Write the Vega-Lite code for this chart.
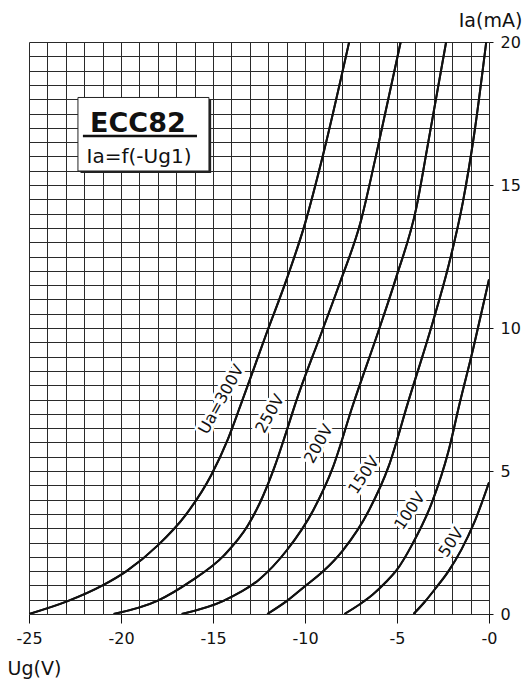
{
  "$schema": "https://vega.github.io/schema/vega-lite/v6.json",
  "width": 460,
  "height": 572,
  "autosize": {"type": "none"},
  "padding": {"left": 29, "top": 42, "right": 43, "bottom": 72},
  "background": "white",
  "config": {
    "view": {"stroke": null},
    "font": "DejaVu Sans",
    "axisX": {
      "grid": true, "gridColor": "#2a2a2a", "gridWidth": 1, "gridOpacity": 1,
      "domain": false,
      "tickSize": 9, "tickColor": "#111111", "tickWidth": 1,
      "labelFont": "DejaVu Sans", "labelFontSize": 16, "labelColor": "#111111", "labelPadding": 7,
      "labelOverlap": false, "labelFlush": false,
      "titleFont": "DejaVu Sans", "titleFontSize": 19, "titleFontWeight": "normal", "titleColor": "#111111",
      "titleAlign": "left", "titleBaseline": "alphabetic", "titleX": -22, "titleY": 60
    },
    "axisY": {
      "grid": true, "gridColor": "#2a2a2a", "gridWidth": 1, "gridOpacity": 1,
      "domain": false,
      "tickSize": 4, "tickColor": "#111111", "tickWidth": 1,
      "labelFont": "DejaVu Sans", "labelFontSize": 16, "labelColor": "#111111", "labelPadding": 7,
      "labelOverlap": false, "labelFlush": false, "labelAlign": "left", "labelBaseline": "middle",
      "titleFont": "DejaVu Sans", "titleFontSize": 19, "titleFontWeight": "normal", "titleColor": "#111111",
      "titleAngle": 0, "titleAlign": "center", "titleBaseline": "alphabetic", "titleX": 1, "titleY": -16
    }
  },
  "datasets": {
    "curves": [
      {"ua": "300V", "ug": -25.0, "ia": 0.0},
      {"ua": "300V", "ug": -22.9, "ia": 0.45},
      {"ua": "300V", "ug": -21.0, "ia": 1.0},
      {"ua": "300V", "ug": -19.7, "ia": 1.5},
      {"ua": "300V", "ug": -18.0, "ia": 2.4},
      {"ua": "300V", "ug": -16.5, "ia": 3.45},
      {"ua": "300V", "ug": -15.1, "ia": 4.85},
      {"ua": "300V", "ug": -14.2, "ia": 6.1},
      {"ua": "300V", "ug": -13.5, "ia": 7.3},
      {"ua": "300V", "ug": -12.1, "ia": 9.8},
      {"ua": "300V", "ug": -11.0, "ia": 11.7},
      {"ua": "300V", "ug": -10.0, "ia": 13.65},
      {"ua": "300V", "ug": -9.0, "ia": 16.1},
      {"ua": "300V", "ug": -7.6, "ia": 20.0},
      {"ua": "250V", "ug": -20.4, "ia": 0.0},
      {"ua": "250V", "ug": -18.0, "ia": 0.47},
      {"ua": "250V", "ug": -16.2, "ia": 1.15},
      {"ua": "250V", "ug": -14.4, "ia": 2.05},
      {"ua": "250V", "ug": -13.1, "ia": 3.1},
      {"ua": "250V", "ug": -12.3, "ia": 4.1},
      {"ua": "250V", "ug": -11.65, "ia": 5.15},
      {"ua": "250V", "ug": -11.05, "ia": 6.3},
      {"ua": "250V", "ug": -10.5, "ia": 7.4},
      {"ua": "250V", "ug": -9.13, "ia": 9.79},
      {"ua": "250V", "ug": -8.06, "ia": 11.66},
      {"ua": "250V", "ug": -7.0, "ia": 13.65},
      {"ua": "250V", "ug": -6.15, "ia": 16.0},
      {"ua": "250V", "ug": -4.8, "ia": 20.0},
      {"ua": "200V", "ug": -16.7, "ia": 0.0},
      {"ua": "200V", "ug": -14.4, "ia": 0.47},
      {"ua": "200V", "ug": -12.5, "ia": 1.2},
      {"ua": "200V", "ug": -11.0, "ia": 2.22},
      {"ua": "200V", "ug": -9.55, "ia": 3.63},
      {"ua": "200V", "ug": -8.5, "ia": 5.1},
      {"ua": "200V", "ug": -7.4, "ia": 7.3},
      {"ua": "200V", "ug": -5.95, "ia": 10.0},
      {"ua": "200V", "ug": -5.04, "ia": 11.78},
      {"ua": "200V", "ug": -3.95, "ia": 14.2},
      {"ua": "200V", "ug": -3.3, "ia": 16.5},
      {"ua": "200V", "ug": -2.33, "ia": 20.0},
      {"ua": "150V", "ug": -12.05, "ia": 0.0},
      {"ua": "150V", "ug": -11.0, "ia": 0.45},
      {"ua": "150V", "ug": -10.1, "ia": 0.92},
      {"ua": "150V", "ug": -9.0, "ia": 1.5},
      {"ua": "150V", "ug": -7.95, "ia": 2.22},
      {"ua": "150V", "ug": -6.52, "ia": 3.63},
      {"ua": "150V", "ug": -5.45, "ia": 5.17},
      {"ua": "150V", "ug": -4.4, "ia": 7.4},
      {"ua": "150V", "ug": -3.08, "ia": 10.15},
      {"ua": "150V", "ug": -2.19, "ia": 12.2},
      {"ua": "150V", "ug": -1.42, "ia": 14.4},
      {"ua": "150V", "ug": -0.8, "ia": 16.8},
      {"ua": "150V", "ug": -0.15, "ia": 20.0},
      {"ua": "100V", "ug": -7.86, "ia": 0.0},
      {"ua": "100V", "ug": -7.0, "ia": 0.35},
      {"ua": "100V", "ug": -6.3, "ia": 0.69},
      {"ua": "100V", "ug": -5.6, "ia": 1.12},
      {"ua": "100V", "ug": -5.0, "ia": 1.55},
      {"ua": "100V", "ug": -4.2, "ia": 2.4},
      {"ua": "100V", "ug": -3.1, "ia": 3.9},
      {"ua": "100V", "ug": -2.2, "ia": 5.7},
      {"ua": "100V", "ug": -1.6, "ia": 7.35},
      {"ua": "100V", "ug": -0.85, "ia": 9.3},
      {"ua": "100V", "ug": 0.0, "ia": 11.7},
      {"ua": "50V", "ug": -4.1, "ia": 0.0},
      {"ua": "50V", "ug": -3.5, "ia": 0.42},
      {"ua": "50V", "ug": -2.9, "ia": 0.9},
      {"ua": "50V", "ug": -2.2, "ia": 1.5},
      {"ua": "50V", "ug": -1.5, "ia": 2.25},
      {"ua": "50V", "ug": -0.8, "ia": 3.2},
      {"ua": "50V", "ug": 0.0, "ia": 4.6}
    ],
    "labels": [
      {"ua": "300V", "text": "Ua=300V", "ug": -14.55, "ia": 7.5},
      {"ua": "250V", "text": "250V", "ug": -11.9, "ia": 7.0},
      {"ua": "200V", "text": "200V", "ug": -9.25, "ia": 5.95},
      {"ua": "150V", "text": "150V", "ug": -6.8, "ia": 4.85},
      {"ua": "100V", "text": "100V", "ug": -4.3, "ia": 3.6},
      {"ua": "50V", "text": "50V", "ug": -2.05, "ia": 2.5}
    ]
  },
  "layer": [
    {
      "data": {"name": "curves"},
      "mark": {"type": "line", "color": "#111111", "strokeWidth": 2, "interpolate": "monotone", "clip": true},
      "encoding": {
        "x": {"field": "ug", "type": "quantitative", "scale": {"domain": [-25, 0], "nice": false, "zero": false},
          "axis": {"title": "Ug(V)", "values": [-25,-24,-23,-22,-21,-20,-19,-18,-17,-16,-15,-14,-13,-12,-11,-10,-9,-8,-7,-6,-5,-4,-3,-2,-1,0], "tickOpacity": {"condition": {"test": "datum.value % 5 === 0", "value": 1}, "value": 0}, "labelExpr": "datum.value % 5 === 0 ? '-' + abs(datum.value) : ''"}},
        "y": {"field": "ia", "type": "quantitative", "scale": {"domain": [0, 20], "nice": false},
          "axis": {"orient": "right", "title": "Ia(mA)", "values": [0,0.5,1,1.5,2,2.5,3,3.5,4,4.5,5,5.5,6,6.5,7,7.5,8,8.5,9,9.5,10,10.5,11,11.5,12,12.5,13,13.5,14,14.5,15,15.5,16,16.5,17,17.5,18,18.5,19,19.5,20], "tickOpacity": {"condition": {"test": "datum.value % 5 === 0", "value": 1}, "value": 0}, "labelExpr": "datum.value % 5 === 0 ? '' + datum.value : ''"}},
        "detail": {"field": "ua"}
      }
    },
    {
      "data": {"name": "labels"},
      "transform": [{"filter": {"field": "ua", "oneOf": ["300V", "250V", "200V"]}}],
      "mark": {"type": "text", "angle": -61, "font": "DejaVu Sans", "fontSize": 16, "fill": "white", "stroke": "white", "strokeWidth": 6, "strokeJoin": "round", "align": "center", "baseline": "middle"},
      "encoding": {
        "x": {"field": "ug", "type": "quantitative",
          "axis": {"title": "Ug(V)", "values": [-25,-24,-23,-22,-21,-20,-19,-18,-17,-16,-15,-14,-13,-12,-11,-10,-9,-8,-7,-6,-5,-4,-3,-2,-1,0], "tickOpacity": {"condition": {"test": "datum.value % 5 === 0", "value": 1}, "value": 0}, "labelExpr": "datum.value % 5 === 0 ? '-' + abs(datum.value) : ''"}},
        "y": {"field": "ia", "type": "quantitative",
          "axis": {"orient": "right", "title": "Ia(mA)", "values": [0,0.5,1,1.5,2,2.5,3,3.5,4,4.5,5,5.5,6,6.5,7,7.5,8,8.5,9,9.5,10,10.5,11,11.5,12,12.5,13,13.5,14,14.5,15,15.5,16,16.5,17,17.5,18,18.5,19,19.5,20], "tickOpacity": {"condition": {"test": "datum.value % 5 === 0", "value": 1}, "value": 0}, "labelExpr": "datum.value % 5 === 0 ? '' + datum.value : ''"}},
        "text": {"field": "text"}
      }
    },
    {
      "data": {"name": "labels"},
      "transform": [{"filter": {"field": "ua", "oneOf": ["150V", "100V", "50V"]}}],
      "mark": {"type": "text", "angle": -56, "font": "DejaVu Sans", "fontSize": 16, "fill": "white", "stroke": "white", "strokeWidth": 6, "strokeJoin": "round", "align": "center", "baseline": "middle"},
      "encoding": {
        "x": {"field": "ug", "type": "quantitative",
          "axis": {"title": "Ug(V)", "values": [-25,-24,-23,-22,-21,-20,-19,-18,-17,-16,-15,-14,-13,-12,-11,-10,-9,-8,-7,-6,-5,-4,-3,-2,-1,0], "tickOpacity": {"condition": {"test": "datum.value % 5 === 0", "value": 1}, "value": 0}, "labelExpr": "datum.value % 5 === 0 ? '-' + abs(datum.value) : ''"}},
        "y": {"field": "ia", "type": "quantitative",
          "axis": {"orient": "right", "title": "Ia(mA)", "values": [0,0.5,1,1.5,2,2.5,3,3.5,4,4.5,5,5.5,6,6.5,7,7.5,8,8.5,9,9.5,10,10.5,11,11.5,12,12.5,13,13.5,14,14.5,15,15.5,16,16.5,17,17.5,18,18.5,19,19.5,20], "tickOpacity": {"condition": {"test": "datum.value % 5 === 0", "value": 1}, "value": 0}, "labelExpr": "datum.value % 5 === 0 ? '' + datum.value : ''"}},
        "text": {"field": "text"}
      }
    },
    {
      "data": {"name": "curves"},
      "mark": {"type": "line", "color": "#111111", "strokeWidth": 2, "interpolate": "monotone", "clip": true},
      "encoding": {
        "x": {"field": "ug", "type": "quantitative",
          "axis": {"title": "Ug(V)", "values": [-25,-24,-23,-22,-21,-20,-19,-18,-17,-16,-15,-14,-13,-12,-11,-10,-9,-8,-7,-6,-5,-4,-3,-2,-1,0], "tickOpacity": {"condition": {"test": "datum.value % 5 === 0", "value": 1}, "value": 0}, "labelExpr": "datum.value % 5 === 0 ? '-' + abs(datum.value) : ''"}},
        "y": {"field": "ia", "type": "quantitative",
          "axis": {"orient": "right", "title": "Ia(mA)", "values": [0,0.5,1,1.5,2,2.5,3,3.5,4,4.5,5,5.5,6,6.5,7,7.5,8,8.5,9,9.5,10,10.5,11,11.5,12,12.5,13,13.5,14,14.5,15,15.5,16,16.5,17,17.5,18,18.5,19,19.5,20], "tickOpacity": {"condition": {"test": "datum.value % 5 === 0", "value": 1}, "value": 0}, "labelExpr": "datum.value % 5 === 0 ? '' + datum.value : ''"}},
        "detail": {"field": "ua"}
      }
    },
    {
      "data": {"name": "labels"},
      "transform": [{"filter": {"field": "ua", "oneOf": ["300V", "250V", "200V"]}}],
      "mark": {"type": "text", "angle": -61, "font": "DejaVu Sans", "fontSize": 16, "color": "#111111", "align": "center", "baseline": "middle"},
      "encoding": {
        "x": {"field": "ug", "type": "quantitative",
          "axis": {"title": "Ug(V)", "values": [-25,-24,-23,-22,-21,-20,-19,-18,-17,-16,-15,-14,-13,-12,-11,-10,-9,-8,-7,-6,-5,-4,-3,-2,-1,0], "tickOpacity": {"condition": {"test": "datum.value % 5 === 0", "value": 1}, "value": 0}, "labelExpr": "datum.value % 5 === 0 ? '-' + abs(datum.value) : ''"}},
        "y": {"field": "ia", "type": "quantitative",
          "axis": {"orient": "right", "title": "Ia(mA)", "values": [0,0.5,1,1.5,2,2.5,3,3.5,4,4.5,5,5.5,6,6.5,7,7.5,8,8.5,9,9.5,10,10.5,11,11.5,12,12.5,13,13.5,14,14.5,15,15.5,16,16.5,17,17.5,18,18.5,19,19.5,20], "tickOpacity": {"condition": {"test": "datum.value % 5 === 0", "value": 1}, "value": 0}, "labelExpr": "datum.value % 5 === 0 ? '' + datum.value : ''"}},
        "text": {"field": "text"}
      }
    },
    {
      "data": {"name": "labels"},
      "transform": [{"filter": {"field": "ua", "oneOf": ["150V", "100V", "50V"]}}],
      "mark": {"type": "text", "angle": -56, "font": "DejaVu Sans", "fontSize": 16, "color": "#111111", "align": "center", "baseline": "middle"},
      "encoding": {
        "x": {"field": "ug", "type": "quantitative",
          "axis": {"title": "Ug(V)", "values": [-25,-24,-23,-22,-21,-20,-19,-18,-17,-16,-15,-14,-13,-12,-11,-10,-9,-8,-7,-6,-5,-4,-3,-2,-1,0], "tickOpacity": {"condition": {"test": "datum.value % 5 === 0", "value": 1}, "value": 0}, "labelExpr": "datum.value % 5 === 0 ? '-' + abs(datum.value) : ''"}},
        "y": {"field": "ia", "type": "quantitative",
          "axis": {"orient": "right", "title": "Ia(mA)", "values": [0,0.5,1,1.5,2,2.5,3,3.5,4,4.5,5,5.5,6,6.5,7,7.5,8,8.5,9,9.5,10,10.5,11,11.5,12,12.5,13,13.5,14,14.5,15,15.5,16,16.5,17,17.5,18,18.5,19,19.5,20], "tickOpacity": {"condition": {"test": "datum.value % 5 === 0", "value": 1}, "value": 0}, "labelExpr": "datum.value % 5 === 0 ? '' + datum.value : ''"}},
        "text": {"field": "text"}
      }
    },
    {
      "data": {"values": [{}]},
      "mark": {"type": "rect", "color": "#222222"},
      "encoding": {
        "x": {"datum": -22.2, "type": "quantitative",
          "axis": {"title": "Ug(V)", "values": [-25,-24,-23,-22,-21,-20,-19,-18,-17,-16,-15,-14,-13,-12,-11,-10,-9,-8,-7,-6,-5,-4,-3,-2,-1,0], "tickOpacity": {"condition": {"test": "datum.value % 5 === 0", "value": 1}, "value": 0}, "labelExpr": "datum.value % 5 === 0 ? '-' + abs(datum.value) : ''"}},
        "x2": {"datum": -15.1},
        "y": {"datum": 17.98, "type": "quantitative",
          "axis": {"orient": "right", "title": "Ia(mA)", "values": [0,0.5,1,1.5,2,2.5,3,3.5,4,4.5,5,5.5,6,6.5,7,7.5,8,8.5,9,9.5,10,10.5,11,11.5,12,12.5,13,13.5,14,14.5,15,15.5,16,16.5,17,17.5,18,18.5,19,19.5,20], "tickOpacity": {"condition": {"test": "datum.value % 5 === 0", "value": 1}, "value": 0}, "labelExpr": "datum.value % 5 === 0 ? '' + datum.value : ''"}},
        "y2": {"datum": 15.42}
      }
    },
    {
      "data": {"values": [{}]},
      "mark": {"type": "rect", "fill": "white", "stroke": "#222222", "strokeWidth": 1},
      "encoding": {
        "x": {"datum": -22.34, "type": "quantitative",
          "axis": {"title": "Ug(V)", "values": [-25,-24,-23,-22,-21,-20,-19,-18,-17,-16,-15,-14,-13,-12,-11,-10,-9,-8,-7,-6,-5,-4,-3,-2,-1,0], "tickOpacity": {"condition": {"test": "datum.value % 5 === 0", "value": 1}, "value": 0}, "labelExpr": "datum.value % 5 === 0 ? '-' + abs(datum.value) : ''"}},
        "x2": {"datum": -15.22},
        "y": {"datum": 18.06, "type": "quantitative",
          "axis": {"orient": "right", "title": "Ia(mA)", "values": [0,0.5,1,1.5,2,2.5,3,3.5,4,4.5,5,5.5,6,6.5,7,7.5,8,8.5,9,9.5,10,10.5,11,11.5,12,12.5,13,13.5,14,14.5,15,15.5,16,16.5,17,17.5,18,18.5,19,19.5,20], "tickOpacity": {"condition": {"test": "datum.value % 5 === 0", "value": 1}, "value": 0}, "labelExpr": "datum.value % 5 === 0 ? '' + datum.value : ''"}},
        "y2": {"datum": 15.49}
      }
    },
    {
      "data": {"values": [{}]},
      "mark": {"type": "rule", "color": "#111111", "strokeWidth": 2.5},
      "encoding": {
        "x": {"datum": -22.07, "type": "quantitative",
          "axis": {"title": "Ug(V)", "values": [-25,-24,-23,-22,-21,-20,-19,-18,-17,-16,-15,-14,-13,-12,-11,-10,-9,-8,-7,-6,-5,-4,-3,-2,-1,0], "tickOpacity": {"condition": {"test": "datum.value % 5 === 0", "value": 1}, "value": 0}, "labelExpr": "datum.value % 5 === 0 ? '-' + abs(datum.value) : ''"}},
        "x2": {"datum": -15.87},
        "y": {"datum": 16.71, "type": "quantitative",
          "axis": {"orient": "right", "title": "Ia(mA)", "values": [0,0.5,1,1.5,2,2.5,3,3.5,4,4.5,5,5.5,6,6.5,7,7.5,8,8.5,9,9.5,10,10.5,11,11.5,12,12.5,13,13.5,14,14.5,15,15.5,16,16.5,17,17.5,18,18.5,19,19.5,20], "tickOpacity": {"condition": {"test": "datum.value % 5 === 0", "value": 1}, "value": 0}, "labelExpr": "datum.value % 5 === 0 ? '' + datum.value : ''"}}
      }
    },
    {
      "data": {"values": [{}]},
      "mark": {"type": "text", "text": "ECC82", "font": "DejaVu Sans", "fontSize": 27, "fontWeight": "bold", "color": "#111111", "align": "center", "baseline": "alphabetic"},
      "encoding": {
        "x": {"datum": -19.08, "type": "quantitative",
          "axis": {"title": "Ug(V)", "values": [-25,-24,-23,-22,-21,-20,-19,-18,-17,-16,-15,-14,-13,-12,-11,-10,-9,-8,-7,-6,-5,-4,-3,-2,-1,0], "tickOpacity": {"condition": {"test": "datum.value % 5 === 0", "value": 1}, "value": 0}, "labelExpr": "datum.value % 5 === 0 ? '-' + abs(datum.value) : ''"}},
        "y": {"datum": 16.86, "type": "quantitative",
          "axis": {"orient": "right", "title": "Ia(mA)", "values": [0,0.5,1,1.5,2,2.5,3,3.5,4,4.5,5,5.5,6,6.5,7,7.5,8,8.5,9,9.5,10,10.5,11,11.5,12,12.5,13,13.5,14,14.5,15,15.5,16,16.5,17,17.5,18,18.5,19,19.5,20], "tickOpacity": {"condition": {"test": "datum.value % 5 === 0", "value": 1}, "value": 0}, "labelExpr": "datum.value % 5 === 0 ? '' + datum.value : ''"}}
      }
    },
    {
      "data": {"values": [{}]},
      "mark": {"type": "text", "text": "Ia=f(-Ug1)", "font": "DejaVu Sans", "fontSize": 20, "color": "#111111", "align": "center", "baseline": "alphabetic"},
      "encoding": {
        "x": {"datum": -19.02, "type": "quantitative",
          "axis": {"title": "Ug(V)", "values": [-25,-24,-23,-22,-21,-20,-19,-18,-17,-16,-15,-14,-13,-12,-11,-10,-9,-8,-7,-6,-5,-4,-3,-2,-1,0], "tickOpacity": {"condition": {"test": "datum.value % 5 === 0", "value": 1}, "value": 0}, "labelExpr": "datum.value % 5 === 0 ? '-' + abs(datum.value) : ''"}},
        "y": {"datum": 15.78, "type": "quantitative",
          "axis": {"orient": "right", "title": "Ia(mA)", "values": [0,0.5,1,1.5,2,2.5,3,3.5,4,4.5,5,5.5,6,6.5,7,7.5,8,8.5,9,9.5,10,10.5,11,11.5,12,12.5,13,13.5,14,14.5,15,15.5,16,16.5,17,17.5,18,18.5,19,19.5,20], "tickOpacity": {"condition": {"test": "datum.value % 5 === 0", "value": 1}, "value": 0}, "labelExpr": "datum.value % 5 === 0 ? '' + datum.value : ''"}}
      }
    }
  ]
}
